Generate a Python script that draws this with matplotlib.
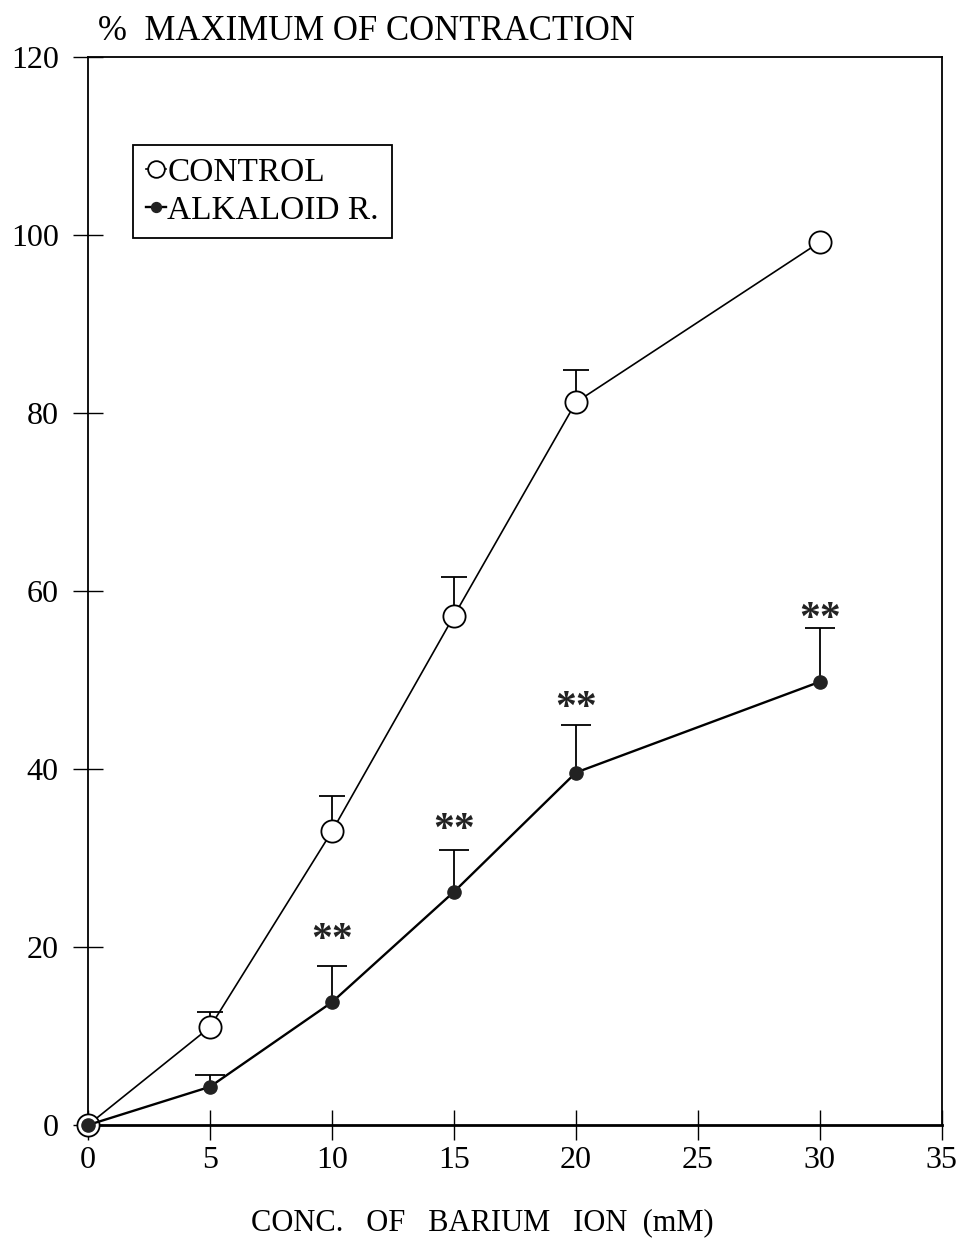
import matplotlib
matplotlib.use("Agg")
import matplotlib.pyplot as plt

# data
conc = [0, 5, 10, 15, 20, 30]
control = [0, 11, 33, 57.2, 81.2, 99.2]
control_err = [0, 1.7, 4.0, 4.4, 3.6, 0]
alkaloid = [0, 4.3, 13.8, 26.2, 39.6, 49.8]
alkaloid_err = [0, 1.3, 4.1, 4.7, 5.3, 6.0]
star_x = [10, 15, 20, 30]
star_y = [21.9, 34.2, 48.0, 58.0]
x_ticks = [0, 5, 10, 15, 20, 25, 30, 35]
y_ticks = [0, 20, 40, 60, 80, 100, 120]

plt.rcParams["font.family"] = ["Liberation Serif", "DejaVu Serif"]

fig = plt.figure(figsize=(9.63, 12.52), dpi=100)
ax = fig.add_axes([0.0914, 0.1014, 0.8866, 0.8531])


def up_errorbars(xs, ys, errs, cap):
    # only the upper half of each error bar, as in the original
    pts = [(x, y, e) for x, y, e in zip(xs, ys, errs) if e > 0]
    bx = [p[0] for p in pts]
    lo = [p[1] for p in pts]
    hi = [p[1] + p[2] for p in pts]
    ax.vlines(bx, lo, hi, color="black", linewidth=1.3, zorder=2)
    ax.plot(bx, hi, linestyle="none", marker="_", markersize=cap,
            markeredgewidth=1.3, color="black", zorder=2)


up_errorbars(conc, control, control_err, 19)
up_errorbars(conc, alkaloid, alkaloid_err, 21)

ax.plot(conc, control, color="black", linewidth=1.2, marker="o",
        markersize=16, markerfacecolor="white", markeredgecolor="black",
        markeredgewidth=1.3, label="CONTROL", clip_on=False, zorder=3)
ax.plot(conc, alkaloid, color="black", linewidth=1.7, marker="o",
        markersize=9.5, markerfacecolor="#222222", markeredgecolor="#222222",
        label="ALKALOID R.", clip_on=False, zorder=4)

# significance marks
for sx, sy in zip(star_x, star_y):
    ax.annotate("**", xy=(sx, sy), xytext=(0, -15), textcoords="offset points",
                ha="center", va="baseline", fontsize=30, fontweight="bold",
                color="#222222")

ax.set_xlim(0, 35)
ax.set_ylim(0, 120)
ax.set_xticks(x_ticks)
ax.set_yticks(y_ticks)
ax.tick_params(axis="both", direction="inout", length=22, width=1.0,
               labelsize=23, pad=4)
ax.tick_params(axis="y", pad=10)
for side in ["left", "right", "top"]:
    ax.spines[side].set_linewidth(1.3)
ax.spines["bottom"].set_linewidth(2.0)

ax.set_xlabel("CONC.   OF   BARIUM   ION  (mM)", fontsize=22, labelpad=24, x=0.462)
ax.text(0.012, 1.008, "%  MAXIMUM OF CONTRACTION", transform=ax.transAxes,
        fontsize=25, ha="left", va="bottom")

leg = ax.legend(loc="upper left", bbox_to_anchor=(0.0527, 0.918), fontsize=24,
                handlelength=0.6, handletextpad=0.05, borderpad=0.38,
                labelspacing=0.22, fancybox=False, framealpha=1,
                edgecolor="black", borderaxespad=0, markerscale=0.75)
leg.get_frame().set_linewidth(1.3)

fig.savefig("out.png", dpi=100)
